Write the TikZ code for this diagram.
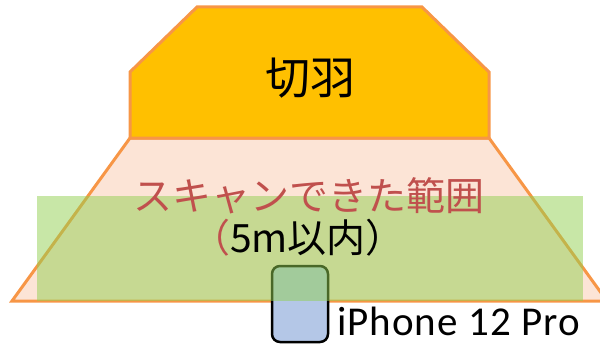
\documentclass[tikz,border=0pt]{standalone}
\usepackage{fontspec}
\newfontfamily\jpfont{Noto Sans CJK JP}
\newfontfamily\calfont[LetterSpace=2.5]{Carlito}
\definecolor{kiriha}{HTML}{FFC000}
\definecolor{edgeor}{HTML}{F79646}
\definecolor{pinkfill}{HTML}{FCE4D6}
\definecolor{greenov}{HTML}{92D050}
\definecolor{phoneblue}{HTML}{B4C7E7}
\definecolor{redtext}{HTML}{C0504D}
\begin{document}
\begin{tikzpicture}[x=1pt,y=-1pt,
  area/.style={draw=edgeor,line width=3pt,line join=miter},
  lbl/.style={inner sep=0pt,font=\jpfont}]
\useasboundingbox (0,0) rectangle (600,345);
\clip (0,0) rectangle (600,345);
% scanned range trapezoid
\filldraw[area,fill=pinkfill] (130,138) -- (489,138) -- (607,301) -- (12,301) -- cycle;
% face (kiriha)
\filldraw[area,fill=kiriha] (197,7) -- (422,7) -- (489,72) -- (489,138) -- (130,138) -- (130,72) -- cycle;
% phone
\node[draw=black,line width=2.5pt,fill=phoneblue,rounded corners=8pt,minimum width=56pt,minimum height=76pt,inner sep=0pt] (phone) at (300,304) {};
% green overlay
\fill[greenov,opacity=0.5] (37,196) rectangle (583,301);
% labels
\node[lbl] (kiri) at (310,78) {\fontsize{45}{54}\selectfont 切羽};
\node[lbl,text=redtext] (scan) at (309,196) {\fontsize{39}{46}\selectfont スキャンできた範囲};
\node[lbl] (dist) at (298,238) {\fontsize{39}{46}\selectfont\textcolor{redtext}{（}5m以内）};
\node[inner sep=0pt,anchor=base west,font=\calfont] (iph) at (337,335) {\fontsize{41}{48}\selectfont iPhone 12 Pro};
\end{tikzpicture}
\end{document}
